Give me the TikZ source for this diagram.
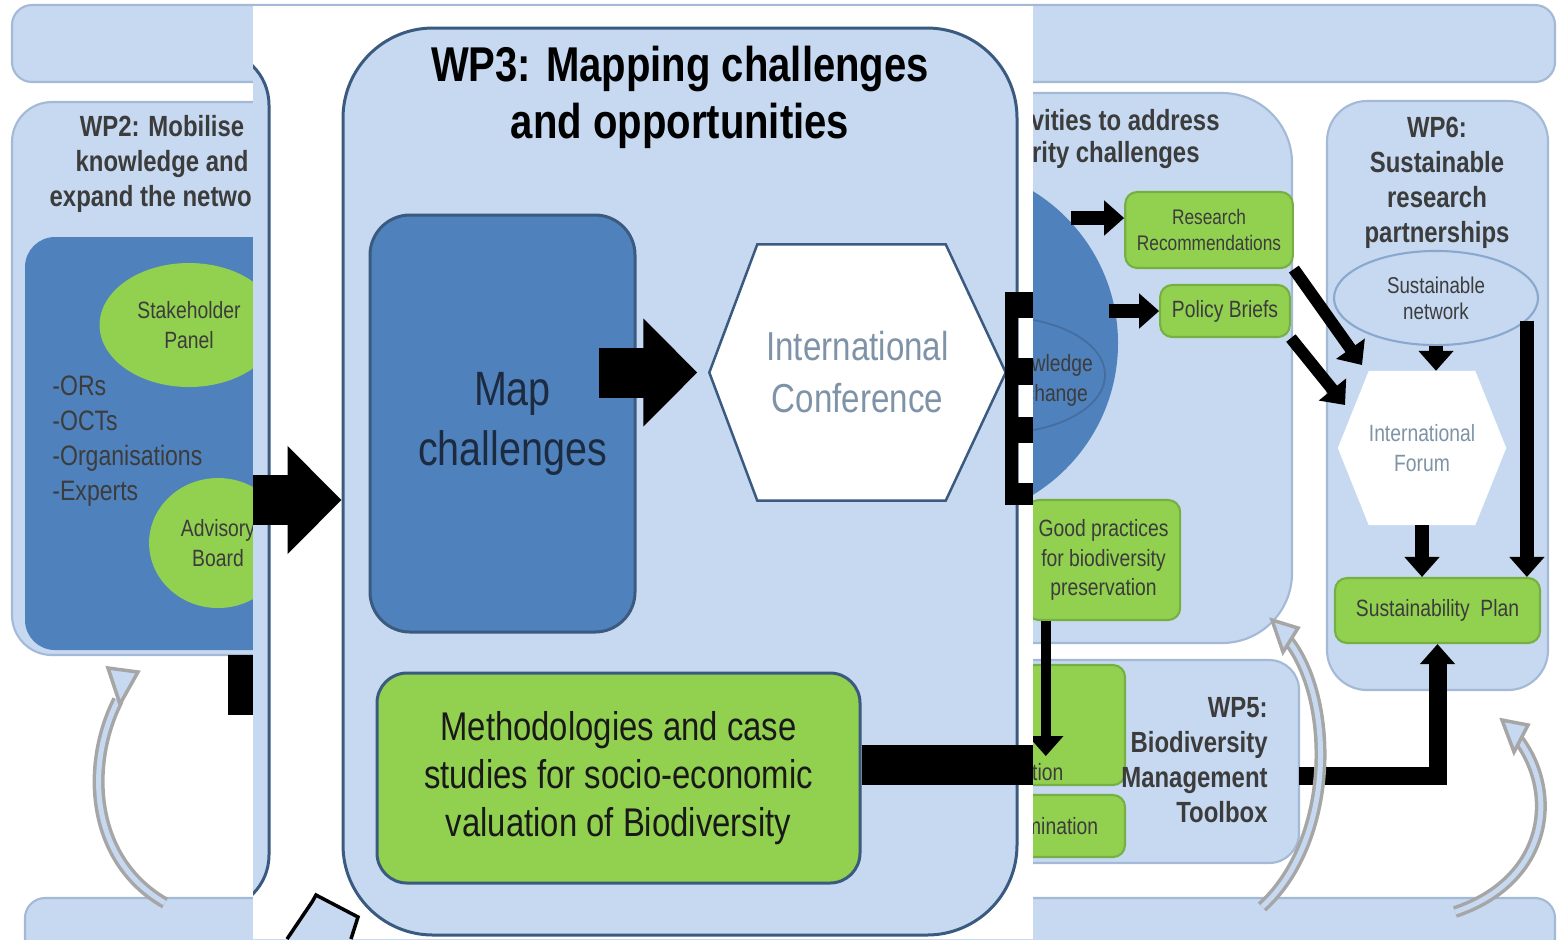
\documentclass[tikz,border=0pt]{standalone}
\usepackage{fontspec}
\setmainfont{Liberation Sans}[FakeStretch=0.82]
\usetikzlibrary{arrows.meta,calc,positioning,shapes.geometric}

\definecolor{wpfill}{HTML}{C6D9F1}
\definecolor{wpline}{HTML}{3B5A80}
\definecolor{mapblue}{HTML}{4F81BD}
\definecolor{leaf}{HTML}{92D050}
\definecolor{leafline}{HTML}{76B043}
\definecolor{navytext}{HTML}{1C2B40}
\definecolor{hextext}{HTML}{7F93A8}
\definecolor{bgline}{HTML}{A3B9D5}
\definecolor{bgtext}{HTML}{3C3C3C}

\tikzset{
  wpbig/.style={draw=wpline, fill=wpfill, line width=0.3mm},
  mapbox/.style={draw=wpline, fill=mapblue, line width=0.3mm, rounded corners=4mm, text=navytext, align=center, font=\fontsize{13.7}{17.1}\selectfont},
  hexframe/.style={rectangle, inner sep=0pt},
  methbox/.style={draw=wpline, fill=leaf, line width=0.3mm, rounded corners=3mm, align=center, text=black!90, font=\fontsize{11.4}{13.7}\selectfont},
  bigarrow/.style={line width=5mm, -{Triangle[length=5.4mm, width=10.5mm]}},
  bgbox/.style={draw=bgline, fill=wpfill, line width=0.6pt},
  bgtitle/.style={text=bgtext, align=center, font=\fontsize{8.3}{10}\selectfont\bfseries},
  bgsmall/.style={text=bgtext, align=center, font=\fontsize{6.7}{8.5}\selectfont},
  bggreen/.style={draw=leafline, fill=leaf, line width=0.6pt, rounded corners=1.2mm, bgsmall},
  fatarrow/.style={line width=1.4mm, -{Triangle[length=2mm, width=3.4mm]}},
  curvedarr/.style={draw=gray!70, double=wpfill, double distance=0.5mm, line width=0.35mm},
}

\begin{document}
\begin{tikzpicture}[x=0.1mm, y=-0.1mm]
\useasboundingbox (0,0) rectangle (1561,939);

% background diagram
\draw[bgbox, rounded corners=2mm] (12,5) rectangle (1555,82);
\draw[bgbox, rounded corners=2mm] (25,898) rectangle (1555,990);

\draw[bgbox, rounded corners=4mm] (12,102) rectangle (300,655);
\fill[mapblue, rounded corners=3mm] (25,237) rectangle (300,650);
\node[bgtitle] (wp2t) at (162,164) {WP2: Mobilise\\knowledge and\\expand the network};
\node[ellipse, fill=leaf, minimum width=15.2mm, minimum height=12.4mm, bgsmall] (stake) at (189,325) {Stakeholder\\Panel};
\node[ellipse, fill=leaf, minimum width=13.6mm, minimum height=13mm, bgsmall] (advis) at (218,543) {Advisory\\Board};
\node[text=bgtext, align=left, anchor=west, font=\fontsize{8}{10}\selectfont] (members) at (40,441) {-ORs\\-OCTs\\-Organisations\\-Experts};
\fill (228,655) rectangle (253,715);
\draw[curvedarr] (118,700) .. controls (85,765) and (90,860) .. (165,903);
\draw[draw=gray!70, fill=wpfill, line width=0.35mm] (108,668) -- (138,672) -- (120,704) -- cycle;

\draw[bgbox, rounded corners=7mm] (860,93) rectangle (1292,643);
\node[bgtitle, anchor=east] (wp4t) at (1232,120) {WP4: Activities to address};
\node[bgtitle, anchor=east] (wp4s) at (1212,155) {priority challenges};
\node[circle, fill=mapblue, minimum size=35.6mm] (kex) at (940,343) {};
\node[ellipse, draw=wpline!50!mapblue, line width=0.5pt, minimum width=21mm, minimum height=11.6mm] (kexin) at (1000,375) {};
\node[bgsmall] (kext) at (1045,380) {Knowledge\\Exchange};
\node[bggreen, minimum width=15.2mm, minimum height=7.6mm, font=\fontsize{6}{7.5}\selectfont] (resrec) at (1209,230) {Research\\Recommendations};
\node[bggreen, minimum width=12mm, minimum height=5.2mm] (policy) at (1225,311) {Policy Briefs};
\draw[fatarrow] ($(resrec.west)+(-53,-12)$) -- ($(resrec.west)+(0,-12)$);
\draw[fatarrow] ($(policy.west)+(-50,0)$) -- (policy.west);
\node[bggreen, minimum width=14.7mm, minimum height=12mm] (good) at (1103.5,560) {Good practices\\for biodiversity\\preservation};

\draw[bgbox, rounded corners=3mm] (930,660) rectangle (1299,863);
\node[bggreen, minimum width=17.5mm, minimum height=12mm] (valbox) at (1037.5,725) {};
\node[bgsmall] (valt) at (1037.5,772) {action};
\node[bggreen, minimum width=17.5mm, minimum height=6.2mm] (dissem) at (1037.5,826) {Dissemination};
\node[bgtitle, align=right, anchor=east] (wp5t) at (1280,760) {WP5:\\Biodiversity\\Management\\Toolbox};
\draw[fatarrow, line width=1mm] ($(good.south west)+(20,0)$) -- ++(0,135);

\draw[bgbox, rounded corners=4mm] (1327,101) rectangle (1548,690);
\node[bgtitle] (wp6t) at (1437,183) {WP6:\\Sustainable\\research\\partnerships};
\node[ellipse, draw=bgline!70!mapblue, fill=wpfill, line width=0.6pt, minimum width=20.4mm, minimum height=7.4mm, bgsmall, font=\fontsize{6.5}{7.5}\selectfont] (sust) at (1436,298) {Sustainable\\network};
\node[hexframe, minimum width=16.7mm, minimum height=15.3mm] (forum) at (1422,448) {};
\fill[white] (forum.west) -- ($(forum.north west)+(31,0)$) -- ($(forum.north east)+(-31,0)$) -- (forum.east)
  -- ($(forum.south east)+(-31,0)$) -- ($(forum.south west)+(31,0)$) -- cycle;
\node[bgsmall, text=hextext] (forumt) at (forum) {International\\Forum};
\node[bggreen, minimum width=20.5mm, minimum height=6.5mm] (plan) at (1437.5,610.5) {Sustainability\ \ Plan};
\draw[fatarrow, line width=1.2mm] (resrec.south east) -- ($(forum.center)+(-60,-83)$);
\draw[fatarrow, line width=1.2mm] (policy.south east) -- ($(forum.center)+(-77,-43)$);
\draw[fatarrow] (sust.south) -- (sust.south |- forum.north);
\draw[fatarrow] (forum.south) -- (forum.south |- plan.north);
\draw[fatarrow] (sust.-14) -- (sust.-14 |- plan.north);
\coordinate (wp5e) at (1299,776);
\draw[fatarrow, line width=1.8mm] (wp5e) -| (plan.south);

\draw[curvedarr] (1288,640) .. controls (1335,700) and (1335,840) .. (1262,907);
\draw[draw=gray!70, fill=wpfill, line width=0.35mm] (1272,620) -- (1298,628) -- (1283,652) -- cycle;
\draw[curvedarr] (1515,735) .. controls (1560,790) and (1550,880) .. (1455,912);
\draw[draw=gray!70, fill=wpfill, line width=0.35mm] (1502,720) -- (1528,725) -- (1514,752) -- cycle;

% zoomed part
\fill[white] (253,6) rectangle (1033,939);
\begin{scope}
\clip (253,6) rectangle (1033,939);
\draw[wpbig, rounded corners=5.5mm] (-200,50) rectangle (269,910);
\node[wpbig, rounded corners=9mm, minimum width=67.4mm, minimum height=90.7mm] (wp3) at (680,481.5) {};
\node[align=center, font=\fontsize{13.9}{16.2}\selectfont\bfseries] (wp3t) at (680,97) {WP3: Mapping challenges\\and opportunities};
\node[mapbox, minimum width=26.5mm, minimum height=41.7mm] (map) at (502.5,423.5) {\hspace*{2mm}Map\\\hspace*{2mm}challenges};
\node[hexframe, minimum width=29.5mm, minimum height=25.5mm] (conf) at (857.5,372.5) {};
\draw[draw=wpline, fill=white, line width=0.25mm] (conf.west) -- ($(conf.north west)+(48,0)$) -- ($(conf.north east)+(-60,0)$)
  -- (conf.east) -- ($(conf.south east)+(-60,0)$) -- ($(conf.south west)+(48,0)$) -- cycle;
\node[align=center, text=hextext, font=\fontsize{11.5}{14.8}\selectfont] (conft) at (conf) {International\\Conference};
\node[methbox, minimum width=48.3mm, minimum height=21mm] (meth) at (618.5,778) {Methodologies and case\\studies for socio-economic\\valuation of Biodiversity};

\coordinate (inA) at (253,500);
\draw[bigarrow] (inA) -- (wp3.west |- inA);
\draw[bigarrow, shorten <=-3.8mm, shorten >=1.2mm] (map.east |- conf.west) -- (conf.west);

\fill (1005,292) rectangle (1018,505);
\foreach \a/\b in {292/318,358/385,417/443,483/505}
  \fill (1005,\a) rectangle (1033,\b);

\coordinate (outM) at (1033,765);
\draw[line width=4mm] (meth.east |- outM) -- (outM);

\draw[line width=0.35mm, fill=wpfill] (287,939) -- (312,902) -- (316,895) -- (358,917) -- (351,939);
\end{scope}
\end{tikzpicture}
\end{document}
